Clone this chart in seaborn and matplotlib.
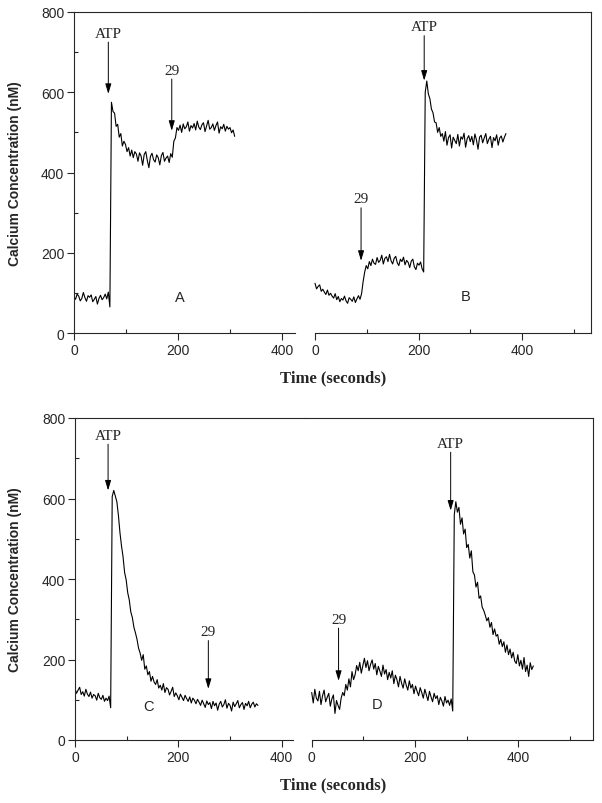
import numpy as np
import matplotlib
matplotlib.use("Agg")
import matplotlib.pyplot as plt
import seaborn as sns

# Calcium traces, one sample every STEP seconds
STEP = 3

calcium_a = [
    90, 84, 97, 92, 80, 86, 101, 88, 79, 93,
    89, 95, 78, 84, 91, 72, 86, 94, 83, 88,
    97, 85, 102, 65, 575, 552, 548, 515, 520, 488,
    497, 466, 478, 470, 452, 462, 441, 456, 437, 452,
    446, 428, 449, 441, 418, 445, 452, 430, 412, 440,
    448, 432, 426, 444, 437, 419, 442, 450, 428, 436,
    441, 425, 447, 438, 478, 486, 512, 505, 518, 500,
    521, 509, 514, 526, 503, 517, 511, 522, 506, 528,
    513, 507, 519, 524, 502, 516, 530, 508, 512, 521,
    505, 517, 526, 498, 514, 509, 520, 503, 515, 508,
    512, 499, 506, 490,
]

calcium_b = [
    124, 110, 116, 120, 104, 109, 102, 96, 107, 94,
    99, 92, 87, 98, 83, 91, 78, 86, 82, 92,
    80, 74, 88, 84, 79, 90, 76, 85, 93, 84,
    98, 128, 152, 168, 160, 178, 168, 184, 174, 171,
    188, 176, 181, 194, 172, 186, 190, 178, 196, 180,
    172, 186, 191, 175, 168, 184, 178, 189, 170, 181,
    176, 163, 179, 184, 165, 158, 174, 169, 177, 160,
    152, 600, 628, 596, 584, 558, 549, 526, 524, 500,
    512, 490, 497, 478, 502, 468, 487, 494, 461, 488,
    480, 472, 495, 466, 489, 483, 498, 463, 484, 492,
    477, 490, 469, 496, 481, 458, 488, 493, 474, 486,
    497, 472, 483, 490, 462, 487, 479, 494, 468, 486,
    491, 476, 488, 497,
]

calcium_c = [
    127, 116, 124, 131, 113, 120, 109, 126, 114, 108,
    119, 104, 113, 110, 99, 116, 105, 101, 111, 96,
    104, 98, 109, 80, 605, 620, 606, 592, 558, 515,
    482, 455, 416, 398, 366, 348, 318, 304, 280, 266,
    250, 228, 216, 198, 212, 176, 184, 162, 170, 146,
    158, 144, 138, 150, 129, 136, 124, 140, 118, 130,
    126, 112, 121, 131, 108, 117, 110, 100, 114, 106,
    98, 111, 103, 96, 107, 92, 104, 99, 90, 101,
    94, 86, 99, 90, 81, 97, 88, 93, 78, 96,
    85, 92, 74, 89, 96, 82, 88, 100, 79, 91,
    86, 72, 94, 83, 90, 98, 80, 88, 93, 76,
    91, 85, 96, 80, 89, 94, 82, 90, 86,
]

calcium_d = [
    118, 92, 126, 104, 97, 121, 88, 110, 124, 95,
    106, 116, 84, 102, 112, 66, 98, 86, 76, 104,
    118, 110, 138, 124, 152, 132, 170, 150, 162, 185,
    172, 193, 166, 184, 203, 180, 197, 172, 188, 199,
    176, 190, 162, 183, 171, 158, 186, 164, 175, 150,
    168, 154, 172, 140, 161, 150, 132, 158, 141, 129,
    152, 136, 124, 147, 129, 138, 115, 134, 121, 110,
    130, 118, 104, 126, 112, 98, 121, 107, 95, 116,
    103, 110, 88, 106, 97, 84, 108, 92, 99, 86,
    102, 72, 560, 592, 566, 578, 536, 552, 512, 524,
    478, 486, 452, 470, 418, 410, 380, 392, 352, 358,
    330, 322, 310, 296, 304, 280, 292, 262, 276, 258,
    262, 238, 250, 232, 244, 218, 236, 212, 226, 204,
    218, 196, 190, 212, 184, 198, 176, 205, 170, 186,
    158, 192, 175, 184,
]

# arrows: (label, time, arrow top, arrow tip)
marks_a = [("ATP", 66, 725, 596), ("29", 188, 633, 504)]
marks_b = [("29", 89, 312, 180), ("ATP", 211, 741, 629)]
marks_c = [("ATP", 64, 735, 620), ("29", 258, 247, 127)]
marks_d = [("29", 52, 278, 147), ("ATP", 269, 715, 570)]

# panel letters: (letter, time, level)
letter_a = ("A", 204, 90)
letter_b = ("B", 292, 92)
letter_c = ("C", 143, 85)
letter_d = ("D", 126, 89)

y_ticks = [0, 200, 400, 600, 800]
x_ticks = [0, 200, 400]

sns.set_style("ticks")
plt.rcParams["font.family"] = ["Liberation Sans", "DejaVu Sans"]

W, H = 602, 804
fig = plt.figure(figsize=(W / 100, H / 100), dpi=100)


def px_axes(x0, x1, ytop, ybot):
    return fig.add_axes([x0 / W, 1 - ybot / H, (x1 - x0) / W, (ybot - ytop) / H])


def draw_trace(ax, values, marks, letter):
    t = np.arange(len(values)) * STEP
    sns.lineplot(x=t, y=values, ax=ax, color="black", lw=0.8)
    for label, tx, top, tip in marks:
        ax.annotate("", xy=(tx, tip), xytext=(tx, top),
                    arrowprops=dict(arrowstyle="-|>,head_length=0.6,head_width=0.18",
                                    color="black", lw=0.7, shrinkA=0, shrinkB=0))
        ax.text(tx, top + 6, label, ha="center", va="bottom",
                family="Liberation Serif", fontsize=11)
    ax.text(letter[1], letter[2], letter[0], ha="center", va="center", fontsize=10.5)
    ax.set_xlabel("")
    ax.set_ylabel("")


def style_x(ax, minor):
    ax.set_xticks(x_ticks)
    ax.set_xticks(minor, minor=True)
    ax.tick_params(axis="x", which="major", direction="out", length=5, width=0.8,
                   labelsize=10, pad=2)
    ax.tick_params(axis="x", which="minor", direction="in", length=3, width=0.8)
    for s in ax.spines.values():
        s.set_linewidth(0.8)


def draw_row(ytop, ybot, left_zero, left_scale, left_end, split,
             right_zero, right_scale, right_edge, left_data, right_data):
    axl = px_axes(left_zero, split, ytop, ybot)
    axr = px_axes(split, right_edge, ytop, ybot)

    draw_trace(axl, *left_data)
    draw_trace(axr, *right_data)

    axl.set_xlim(0, (split - left_zero) / left_scale)
    axr.set_xlim((split - right_zero) / right_scale, (right_edge - right_zero) / right_scale)
    for ax in (axl, axr):
        ax.set_ylim(0, 800)

    axl.spines["right"].set_visible(False)
    axl.spines["bottom"].set_bounds(0, (left_end - left_zero) / left_scale)
    axl.set_yticks(y_ticks)
    axl.set_yticks([100, 300, 500, 700], minor=True)
    axl.tick_params(axis="y", which="major", direction="out", length=5, width=0.8,
                    labelsize=10, pad=2)
    axl.tick_params(axis="y", which="minor", direction="in", length=3, width=0.8)
    style_x(axl, [100, 300])

    axr.spines["left"].set_visible(False)
    axr.spines["bottom"].set_bounds(0, axr.get_xlim()[1])
    axr.set_yticks([])
    style_x(axr, [100, 300, 500])

    ymid = (ytop + ybot) / 2
    fig.text(15 / W, 1 - ymid / H, "Calcium Concentration (nM)", rotation=90,
             ha="center", va="center", fontweight="bold", fontsize=10)


draw_row(13, 334, 74, 0.52, 295, 305, 315, 0.5175, 591,
         (calcium_a, marks_a, letter_a), (calcium_b, marks_b, letter_b))
fig.text(333 / W, 1 - 378 / H, "Time (seconds)", ha="center", va="center",
         family="Liberation Serif", fontweight="bold", fontsize=12)

draw_row(419, 741, 75, 0.5168, 293, 305, 311.7, 0.5166, 593,
         (calcium_c, marks_c, letter_c), (calcium_d, marks_d, letter_d))
fig.text(333 / W, 1 - 785 / H, "Time (seconds)", ha="center", va="center",
         family="Liberation Serif", fontweight="bold", fontsize=12)

fig.savefig("out.png", dpi=100)
